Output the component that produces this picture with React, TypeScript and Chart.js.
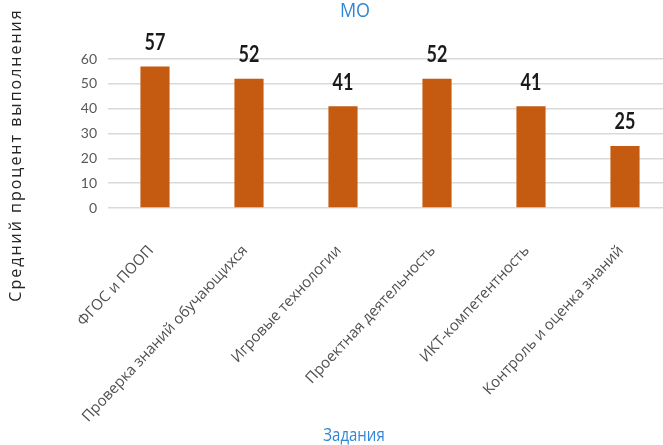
import React, { useEffect, useRef } from "react";
import { Chart, registerables } from "chart.js";

Chart.register(...registerables);

const categories = [
  "ФГОС и ПООП",
  "Проверка знаний обучающихся",
  "Игровые технологии",
  "Проектная деятельность",
  "ИКТ-компетентность",
  "Контроль и оценка знаний",
];
const values = [57, 52, 41, 52, 41, 25];
const chartTitle = "МО";
const yTitle = "Средний процент выполнения";
const xTitle = "Задания";

const BAR = "#C55A11";
const BLUE = "#2F86D6";

function stretchedText(ctx: any, text: string, x: number, y: number, sy: number) {
  ctx.save();
  ctx.translate(x, y);
  ctx.scale(1, sy);
  ctx.fillText(text, 0, 0);
  ctx.restore();
}

const overlay = {
  id: "overlay",
  afterDatasetsDraw(chart: any) {
    const ctx = chart.ctx;
    ctx.save();
    const meta = chart.getDatasetMeta(0);
    ctx.font = "bold 18px Lato";
    ctx.fillStyle = "#1a1a1a";
    ctx.textAlign = "center";
    ctx.textBaseline = "middle";
    meta.data.forEach((el: any, i: number) => {
      stretchedText(ctx, String(values[i]), el.x, el.y - 24, 1.3);
    });
    ctx.font = "18px 'Open Sans'";
    ctx.fillStyle = BLUE;
    stretchedText(ctx, chartTitle, 355, 11, 1.15);
    ctx.font = "15px 'Open Sans'";
    stretchedText(ctx, xTitle, 354, 436, 1.2);
    ctx.translate(16, 155);
    ctx.rotate(-Math.PI / 2);
    ctx.font = "16px 'Open Sans'";
    (ctx as any).letterSpacing = "2px";
    ctx.fillStyle = "#262626";
    ctx.fillText(yTitle, 0, 0);
    ctx.restore();
  },
};

export default function App() {
  const ref = useRef<HTMLCanvasElement>(null);
  useEffect(() => {
    if (!ref.current) return;
    const chart = new Chart(ref.current, {
      type: "bar",
      data: {
        labels: categories,
        datasets: [
          {
            data: values,
            backgroundColor: BAR,
            barPercentage: 0.31,
            categoryPercentage: 1,
          },
        ],
      },
      options: {
        animation: false,
        responsive: false,
        layout: { padding: { top: 59, right: 32, bottom: 0, left: 0 } },
        plugins: { legend: { display: false }, tooltip: { enabled: false }, title: { display: false } },
        scales: {
          x: {
            grid: { display: false },
            border: { display: false },
            afterFit: (s: any) => {
              s.height = 237;
            },
            ticks: {
              autoSkip: false,
              maxRotation: 47,
              minRotation: 47,
              labelOffset: -4,
              padding: 26,
              color: "#505050",
              font: { family: "Open Sans", size: 15 },
            },
          },
          y: {
            min: 0,
            max: 60,
            afterFit: (s: any) => {
              s.width = 108;
            },
            border: { display: false },
            grid: { color: "#D9D9D9", lineWidth: 1.5, drawTicks: false },
            ticks: {
              stepSize: 10,
              padding: 11,
              color: "#595959",
              font: { family: "Lato", size: 14 },
            },
          },
        },
      },
      plugins: [overlay],
    });
    return () => chart.destroy();
  }, []);
  return (
    <div style={{ position: "fixed", left: 0, top: 0, width: 663, height: 445, overflow: "hidden", background: "#fff" }}>
      <canvas ref={ref} width={704} height={445} style={{ display: "block" }} />
    </div>
  );
}
